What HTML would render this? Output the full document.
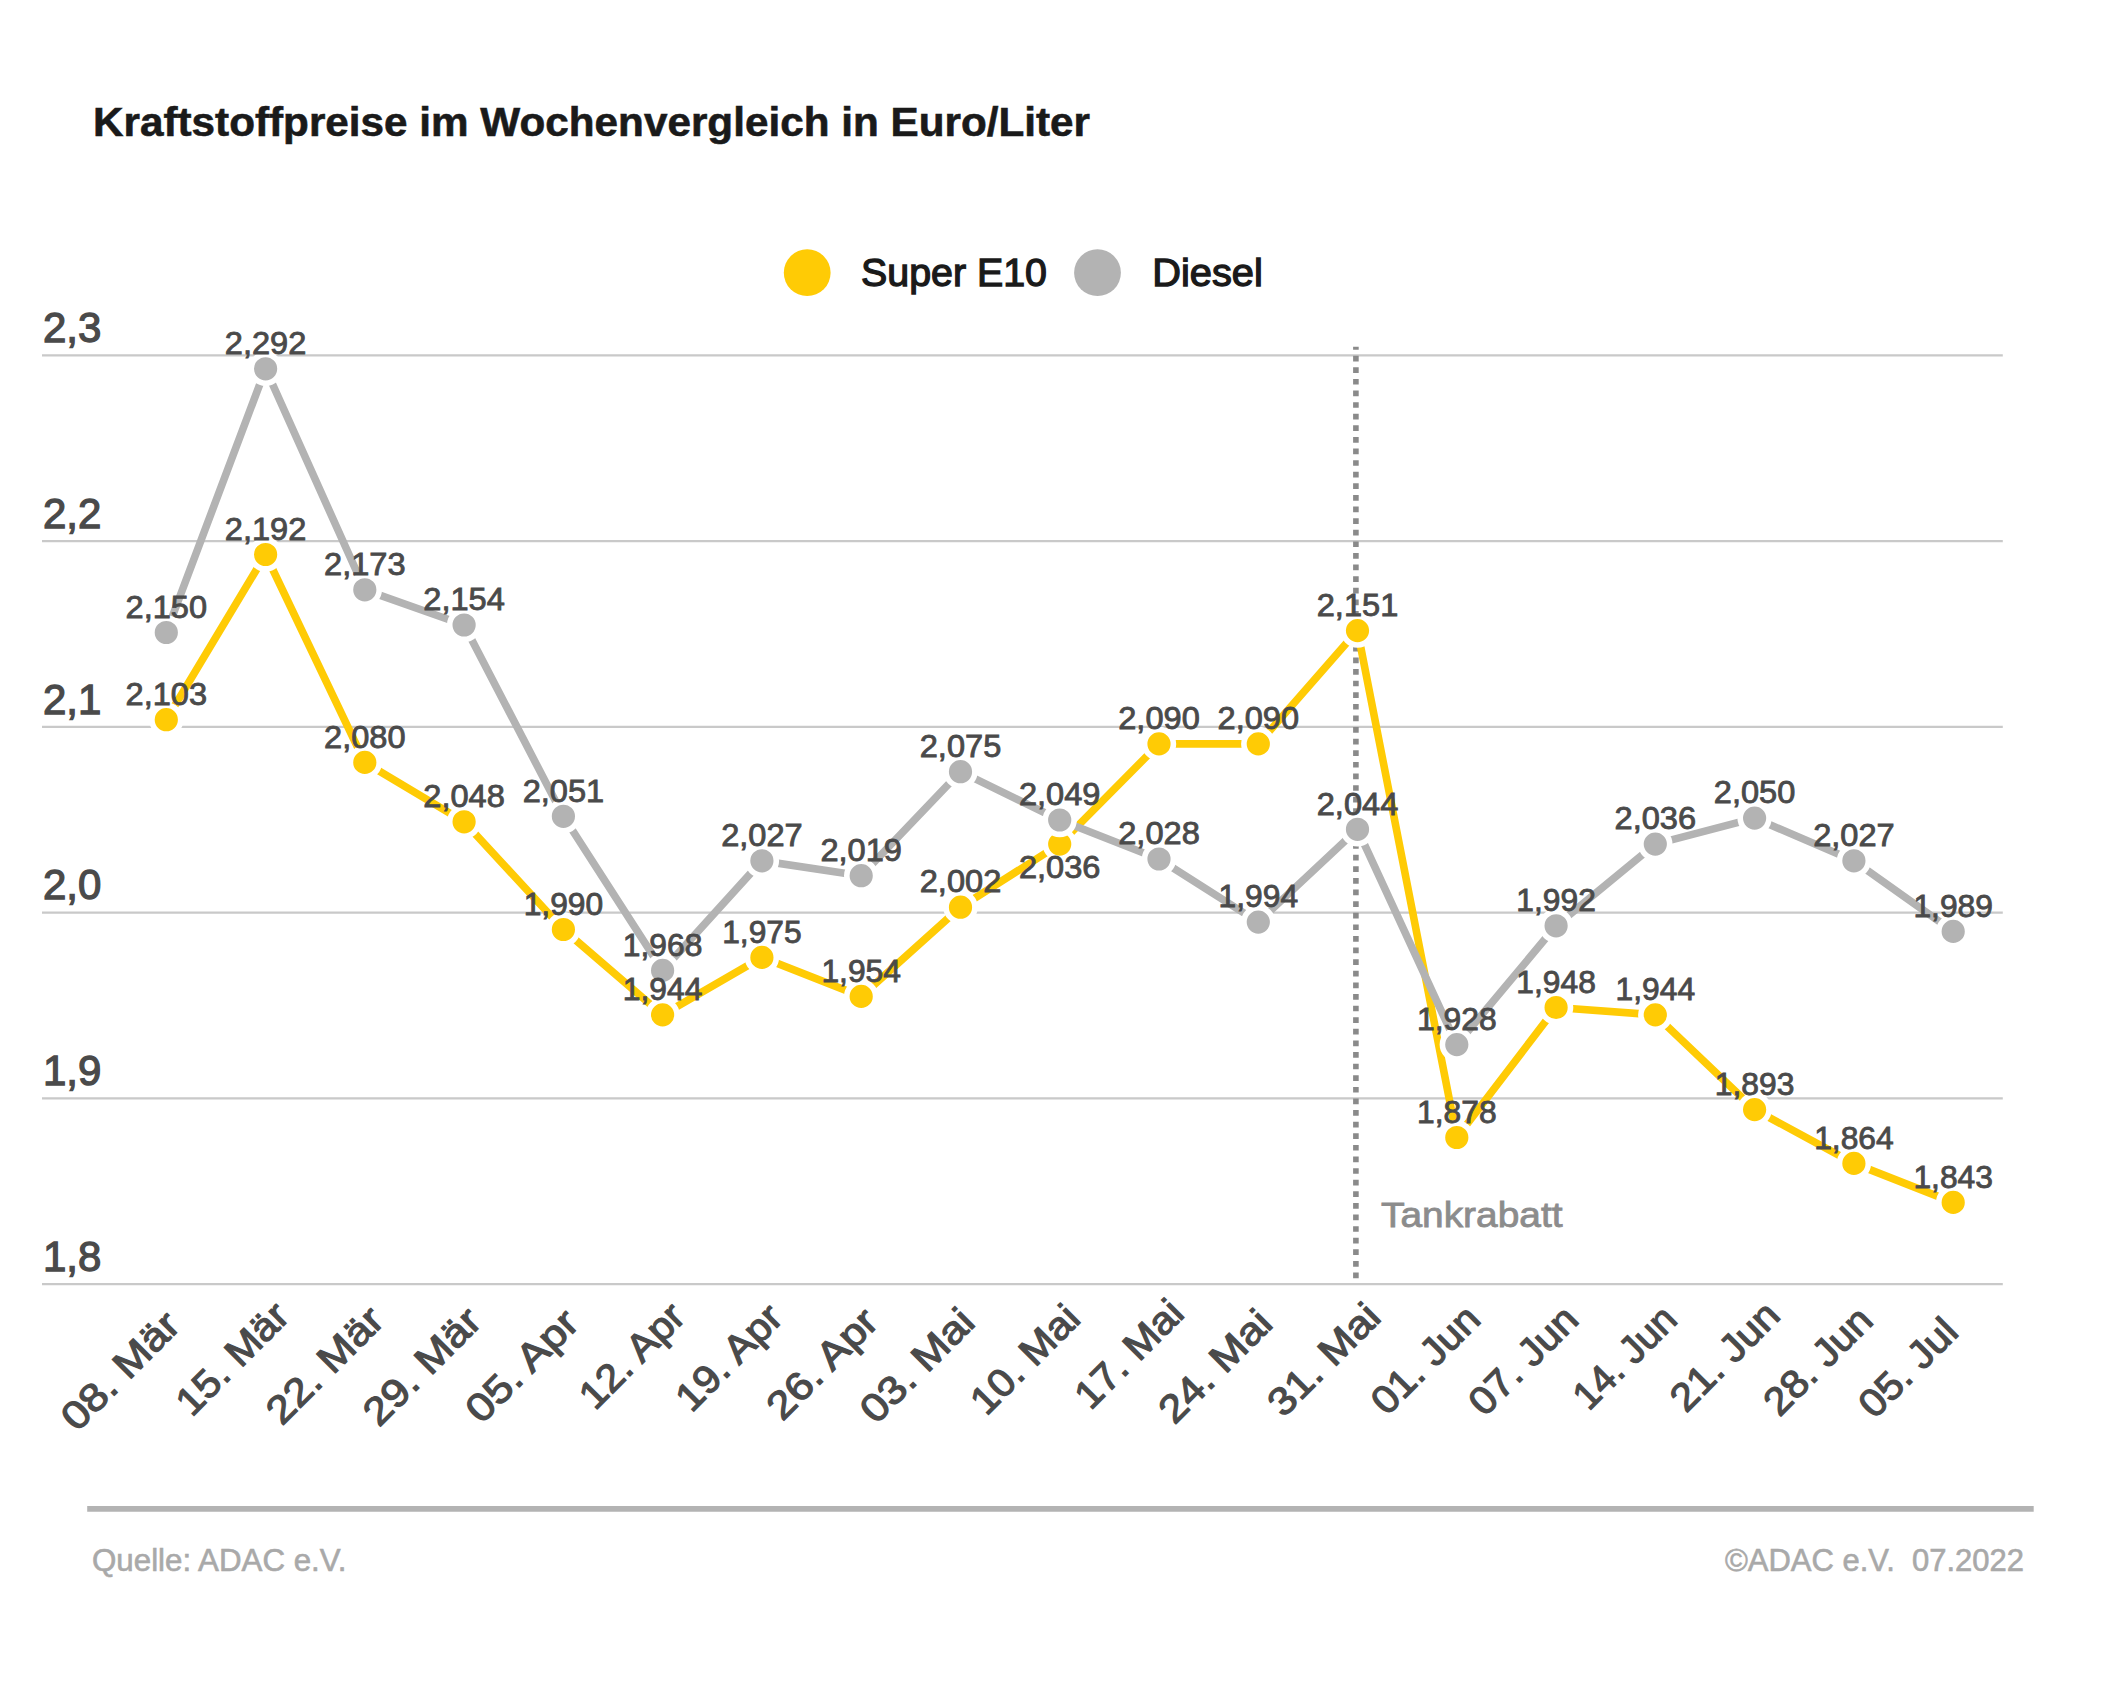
<!DOCTYPE html>
<html lang="de">
<head>
<meta charset="utf-8">
<title>Kraftstoffpreise im Wochenvergleich</title>
<style>
html,body{margin:0;padding:0;background:#fff}
body{width:2126px;height:1683px;overflow:hidden}
svg{display:block}
text{font-family:"Liberation Sans", sans-serif}
.dl{font-size:30.6px;fill:#4a4a4a;text-anchor:middle;stroke:#4a4a4a;stroke-width:.85px}
.yl{font-size:42px;fill:#4a4a4a;stroke:#4a4a4a;stroke-width:1.3px}
.xl{font-size:39px;fill:#4a4a4a;text-anchor:end;stroke:#4a4a4a;stroke-width:1.2px}
</style>
</head>
<body>
<svg width="2126" height="1683" viewBox="0 0 2126 1683">
<rect width="2126" height="1683" fill="#fff"/>
<text x="93" y="135.8" font-size="40.5" font-weight="bold" fill="#1a1a1a" stroke="#1a1a1a" stroke-width="0.6" textLength="997" lengthAdjust="spacingAndGlyphs">Kraftstoffpreise im Wochenvergleich in Euro/Liter</text>
<circle cx="807.2" cy="272.7" r="23.4" fill="#ffcb05"/>
<text x="861" y="286.4" font-size="38.8" fill="#1a1a1a" stroke="#1a1a1a" stroke-width="1.3" textLength="186" lengthAdjust="spacingAndGlyphs">Super E10</text>
<circle cx="1097.5" cy="272.7" r="23.4" fill="#b3b3b3"/>
<text x="1152.3" y="286.4" font-size="38.8" fill="#1a1a1a" stroke="#1a1a1a" stroke-width="1.3" textLength="110.5" lengthAdjust="spacingAndGlyphs">Diesel</text>
<line x1="42" x2="2002.8" y1="355.4" y2="355.4" stroke="#c9c9c9" stroke-width="2.2"/>
<text class="yl" x="43" y="342.2">2,3</text>
<line x1="42" x2="2002.8" y1="541.1" y2="541.1" stroke="#c9c9c9" stroke-width="2.2"/>
<text class="yl" x="43" y="527.9">2,2</text>
<line x1="42" x2="2002.8" y1="726.9" y2="726.9" stroke="#c9c9c9" stroke-width="2.2"/>
<text class="yl" x="43" y="713.7">2,1</text>
<line x1="42" x2="2002.8" y1="912.6" y2="912.6" stroke="#c9c9c9" stroke-width="2.2"/>
<text class="yl" x="43" y="899.4">2,0</text>
<line x1="42" x2="2002.8" y1="1098.4" y2="1098.4" stroke="#c9c9c9" stroke-width="2.2"/>
<text class="yl" x="43" y="1085.2">1,9</text>
<line x1="42" x2="2002.8" y1="1284.1" y2="1284.1" stroke="#c9c9c9" stroke-width="2.2"/>
<text class="yl" x="43" y="1270.9">1,8</text>
<line x1="1355.9" x2="1355.9" y1="346.8" y2="1278.4" stroke="#8a8a8a" stroke-width="5.6" stroke-dasharray="5.7 5.906" stroke-dashoffset="2.7"/>
<text x="1381" y="1227.4" font-size="34.3" fill="#8c8c8c" stroke="#8c8c8c" stroke-width="0.8" textLength="181.5" lengthAdjust="spacingAndGlyphs">Tankrabatt</text>
<polyline points="166.3,719.7 265.6,554.5 364.8,762.4 464.1,821.8 563.4,929.5 662.6,1014.9 761.9,957.4 861.2,996.4 960.5,907.2 1059.7,844.1 1159.0,743.9 1258.3,743.9 1357.5,630.6 1456.8,1137.5 1556.1,1007.5 1655.3,1014.9 1754.6,1109.6 1853.9,1163.4 1953.2,1202.4" fill="none" stroke="#ffcb05" stroke-width="7.6" stroke-linejoin="round" stroke-linecap="round"/>
<circle cx="166.3" cy="719.7" r="14.4" fill="#ffcb05" stroke="#fff" stroke-width="5.6"/>
<circle cx="265.6" cy="554.5" r="14.4" fill="#ffcb05" stroke="#fff" stroke-width="5.6"/>
<circle cx="364.8" cy="762.4" r="14.4" fill="#ffcb05" stroke="#fff" stroke-width="5.6"/>
<circle cx="464.1" cy="821.8" r="14.4" fill="#ffcb05" stroke="#fff" stroke-width="5.6"/>
<circle cx="563.4" cy="929.5" r="14.4" fill="#ffcb05" stroke="#fff" stroke-width="5.6"/>
<circle cx="662.6" cy="1014.9" r="14.4" fill="#ffcb05" stroke="#fff" stroke-width="5.6"/>
<circle cx="761.9" cy="957.4" r="14.4" fill="#ffcb05" stroke="#fff" stroke-width="5.6"/>
<circle cx="861.2" cy="996.4" r="14.4" fill="#ffcb05" stroke="#fff" stroke-width="5.6"/>
<circle cx="960.5" cy="907.2" r="14.4" fill="#ffcb05" stroke="#fff" stroke-width="5.6"/>
<circle cx="1059.7" cy="844.1" r="14.4" fill="#ffcb05" stroke="#fff" stroke-width="5.6"/>
<circle cx="1159.0" cy="743.9" r="14.4" fill="#ffcb05" stroke="#fff" stroke-width="5.6"/>
<circle cx="1258.3" cy="743.9" r="14.4" fill="#ffcb05" stroke="#fff" stroke-width="5.6"/>
<circle cx="1357.5" cy="630.6" r="14.4" fill="#ffcb05" stroke="#fff" stroke-width="5.6"/>
<circle cx="1456.8" cy="1137.5" r="14.4" fill="#ffcb05" stroke="#fff" stroke-width="5.6"/>
<circle cx="1556.1" cy="1007.5" r="14.4" fill="#ffcb05" stroke="#fff" stroke-width="5.6"/>
<circle cx="1655.3" cy="1014.9" r="14.4" fill="#ffcb05" stroke="#fff" stroke-width="5.6"/>
<circle cx="1754.6" cy="1109.6" r="14.4" fill="#ffcb05" stroke="#fff" stroke-width="5.6"/>
<circle cx="1853.9" cy="1163.4" r="14.4" fill="#ffcb05" stroke="#fff" stroke-width="5.6"/>
<circle cx="1953.2" cy="1202.4" r="14.4" fill="#ffcb05" stroke="#fff" stroke-width="5.6"/>
<polyline points="166.3,632.5 265.6,368.8 364.8,589.8 464.1,625.0 563.4,816.3 662.6,970.4 761.9,860.8 861.2,875.7 960.5,771.7 1059.7,820.0 1159.0,859.0 1258.3,922.1 1357.5,829.3 1456.8,1044.6 1556.1,925.8 1655.3,844.1 1754.6,818.1 1853.9,860.8 1953.2,931.4" fill="none" stroke="#b3b3b3" stroke-width="7.6" stroke-linejoin="round" stroke-linecap="round"/>
<circle cx="166.3" cy="632.5" r="14.4" fill="#b3b3b3" stroke="#fff" stroke-width="5.6"/>
<circle cx="265.6" cy="368.8" r="14.4" fill="#b3b3b3" stroke="#fff" stroke-width="5.6"/>
<circle cx="364.8" cy="589.8" r="14.4" fill="#b3b3b3" stroke="#fff" stroke-width="5.6"/>
<circle cx="464.1" cy="625.0" r="14.4" fill="#b3b3b3" stroke="#fff" stroke-width="5.6"/>
<circle cx="563.4" cy="816.3" r="14.4" fill="#b3b3b3" stroke="#fff" stroke-width="5.6"/>
<circle cx="662.6" cy="970.4" r="14.4" fill="#b3b3b3" stroke="#fff" stroke-width="5.6"/>
<circle cx="761.9" cy="860.8" r="14.4" fill="#b3b3b3" stroke="#fff" stroke-width="5.6"/>
<circle cx="861.2" cy="875.7" r="14.4" fill="#b3b3b3" stroke="#fff" stroke-width="5.6"/>
<circle cx="960.5" cy="771.7" r="14.4" fill="#b3b3b3" stroke="#fff" stroke-width="5.6"/>
<circle cx="1059.7" cy="820.0" r="14.4" fill="#b3b3b3" stroke="#fff" stroke-width="5.6"/>
<circle cx="1159.0" cy="859.0" r="14.4" fill="#b3b3b3" stroke="#fff" stroke-width="5.6"/>
<circle cx="1258.3" cy="922.1" r="14.4" fill="#b3b3b3" stroke="#fff" stroke-width="5.6"/>
<circle cx="1357.5" cy="829.3" r="14.4" fill="#b3b3b3" stroke="#fff" stroke-width="5.6"/>
<circle cx="1456.8" cy="1044.6" r="14.4" fill="#b3b3b3" stroke="#fff" stroke-width="5.6"/>
<circle cx="1556.1" cy="925.8" r="14.4" fill="#b3b3b3" stroke="#fff" stroke-width="5.6"/>
<circle cx="1655.3" cy="844.1" r="14.4" fill="#b3b3b3" stroke="#fff" stroke-width="5.6"/>
<circle cx="1754.6" cy="818.1" r="14.4" fill="#b3b3b3" stroke="#fff" stroke-width="5.6"/>
<circle cx="1853.9" cy="860.8" r="14.4" fill="#b3b3b3" stroke="#fff" stroke-width="5.6"/>
<circle cx="1953.2" cy="931.4" r="14.4" fill="#b3b3b3" stroke="#fff" stroke-width="5.6"/>
<text class="dl" x="166.3" y="704.9" textLength="81.5" lengthAdjust="spacingAndGlyphs">2,103</text>
<text class="dl" x="265.6" y="539.7" textLength="81.5" lengthAdjust="spacingAndGlyphs">2,192</text>
<text class="dl" x="364.8" y="747.6" textLength="81.5" lengthAdjust="spacingAndGlyphs">2,080</text>
<text class="dl" x="464.1" y="807.0" textLength="81.5" lengthAdjust="spacingAndGlyphs">2,048</text>
<text class="dl" x="563.4" y="914.7" textLength="79.5" lengthAdjust="spacingAndGlyphs">1,990</text>
<text class="dl" x="662.6" y="1000.1" textLength="79.5" lengthAdjust="spacingAndGlyphs">1,944</text>
<text class="dl" x="761.9" y="942.6" textLength="79.5" lengthAdjust="spacingAndGlyphs">1,975</text>
<text class="dl" x="861.2" y="981.6" textLength="79.5" lengthAdjust="spacingAndGlyphs">1,954</text>
<text class="dl" x="960.5" y="892.4" textLength="81.5" lengthAdjust="spacingAndGlyphs">2,002</text>
<text class="dl" x="1059.7" y="877.8" textLength="81.5" lengthAdjust="spacingAndGlyphs">2,036</text>
<text class="dl" x="1159.0" y="729.1" textLength="81.5" lengthAdjust="spacingAndGlyphs">2,090</text>
<text class="dl" x="1258.3" y="729.1" textLength="81.5" lengthAdjust="spacingAndGlyphs">2,090</text>
<text class="dl" x="1357.5" y="615.8" textLength="81.5" lengthAdjust="spacingAndGlyphs">2,151</text>
<text class="dl" x="1456.8" y="1122.7" textLength="79.5" lengthAdjust="spacingAndGlyphs">1,878</text>
<text class="dl" x="1556.1" y="992.7" textLength="79.5" lengthAdjust="spacingAndGlyphs">1,948</text>
<text class="dl" x="1655.3" y="1000.1" textLength="79.5" lengthAdjust="spacingAndGlyphs">1,944</text>
<text class="dl" x="1754.6" y="1094.8" textLength="79.5" lengthAdjust="spacingAndGlyphs">1,893</text>
<text class="dl" x="1853.9" y="1148.6" textLength="79.5" lengthAdjust="spacingAndGlyphs">1,864</text>
<text class="dl" x="1953.2" y="1187.6" textLength="79.5" lengthAdjust="spacingAndGlyphs">1,843</text>
<text class="dl" x="166.3" y="617.7" textLength="81.5" lengthAdjust="spacingAndGlyphs">2,150</text>
<text class="dl" x="265.6" y="354.0" textLength="81.5" lengthAdjust="spacingAndGlyphs">2,292</text>
<text class="dl" x="364.8" y="575.0" textLength="81.5" lengthAdjust="spacingAndGlyphs">2,173</text>
<text class="dl" x="464.1" y="610.2" textLength="81.5" lengthAdjust="spacingAndGlyphs">2,154</text>
<text class="dl" x="563.4" y="801.5" textLength="81.5" lengthAdjust="spacingAndGlyphs">2,051</text>
<text class="dl" x="662.6" y="955.6" textLength="79.5" lengthAdjust="spacingAndGlyphs">1,968</text>
<text class="dl" x="761.9" y="846.0" textLength="81.5" lengthAdjust="spacingAndGlyphs">2,027</text>
<text class="dl" x="861.2" y="860.9" textLength="81.5" lengthAdjust="spacingAndGlyphs">2,019</text>
<text class="dl" x="960.5" y="756.9" textLength="81.5" lengthAdjust="spacingAndGlyphs">2,075</text>
<text class="dl" x="1059.7" y="805.2" textLength="81.5" lengthAdjust="spacingAndGlyphs">2,049</text>
<text class="dl" x="1159.0" y="844.2" textLength="81.5" lengthAdjust="spacingAndGlyphs">2,028</text>
<text class="dl" x="1258.3" y="907.3" textLength="79.5" lengthAdjust="spacingAndGlyphs">1,994</text>
<text class="dl" x="1357.5" y="814.5" textLength="81.5" lengthAdjust="spacingAndGlyphs">2,044</text>
<text class="dl" x="1456.8" y="1029.8" textLength="79.5" lengthAdjust="spacingAndGlyphs">1,928</text>
<text class="dl" x="1556.1" y="911.0" textLength="79.5" lengthAdjust="spacingAndGlyphs">1,992</text>
<text class="dl" x="1655.3" y="829.3" textLength="81.5" lengthAdjust="spacingAndGlyphs">2,036</text>
<text class="dl" x="1754.6" y="803.3" textLength="81.5" lengthAdjust="spacingAndGlyphs">2,050</text>
<text class="dl" x="1853.9" y="846.0" textLength="81.5" lengthAdjust="spacingAndGlyphs">2,027</text>
<text class="dl" x="1953.2" y="916.6" textLength="79.5" lengthAdjust="spacingAndGlyphs">1,989</text>
<text class="xl" transform="translate(182.2 1327.5) rotate(-45) scale(1.126 1)">08. Mär</text>
<text class="xl" transform="translate(291.2 1318.3) rotate(-45) scale(1.064 1)">15. Mär</text>
<text class="xl" transform="translate(386.0 1322.5) rotate(-45) scale(1.114 1)">22. Mär</text>
<text class="xl" transform="translate(483.5 1323.6) rotate(-45) scale(1.118 1)">29. Mär</text>
<text class="xl" transform="translate(581.0 1325.4) rotate(-45) scale(1.140 1)">05. Apr</text>
<text class="xl" transform="translate(687.3 1318.9) rotate(-45) scale(1.057 1)">12. Apr</text>
<text class="xl" transform="translate(784.9 1320.0) rotate(-45) scale(1.069 1)">19. Apr</text>
<text class="xl" transform="translate(880.4 1324.1) rotate(-45) scale(1.120 1)">26. Apr</text>
<text class="xl" transform="translate(976.9 1324.4) rotate(-45) scale(1.116 1)">03. Mai</text>
<text class="xl" transform="translate(1082.2 1320.8) rotate(-45) scale(1.061 1)">10. Mai</text>
<text class="xl" transform="translate(1186.0 1315.5) rotate(-45) scale(1.057 1)">17. Mai</text>
<text class="xl" transform="translate(1274.5 1325.6) rotate(-45) scale(1.106 1)">24. Mai</text>
<text class="xl" transform="translate(1382.7 1319.2) rotate(-45) scale(1.098 1)">31. Mai</text>
<text class="xl" transform="translate(1482.4 1321.3) rotate(-45) scale(1.056 1)">01. Jun</text>
<text class="xl" transform="translate(1580.5 1321.7) rotate(-45) scale(1.061 1)">07. Jun</text>
<text class="xl" transform="translate(1679.0 1321.6) rotate(-45) scale(0.998 1)">14. Jun</text>
<text class="xl" transform="translate(1782.1 1317.5) rotate(-45) scale(1.063 1)">21. Jun</text>
<text class="xl" transform="translate(1874.8 1322.5) rotate(-45) scale(1.053 1)">28. Jun</text>
<text class="xl" transform="translate(1960.3 1334.1) rotate(-45) scale(1.057 1)">05. Jul</text>
<line x1="87.2" x2="2033.7" y1="1508.9" y2="1508.9" stroke="#b3b3b3" stroke-width="5.6"/>
<text x="92" y="1571" font-size="30.6" fill="#a9a9a9" stroke="#a9a9a9" stroke-width="0.6" textLength="254.5" lengthAdjust="spacingAndGlyphs">Quelle: ADAC e.V.</text>
<text x="1725" y="1571" font-size="30.6" fill="#a9a9a9" stroke="#a9a9a9" stroke-width="0.6" textLength="299" lengthAdjust="spacingAndGlyphs">©ADAC e.V.&#160;&#160;07.2022</text>
</svg>
</body>
</html>
